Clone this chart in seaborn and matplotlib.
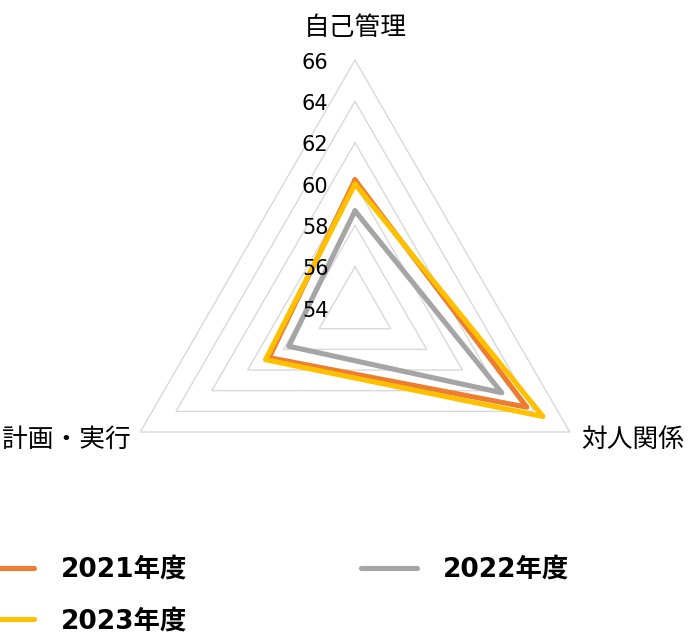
import numpy as np
import pandas as pd
import seaborn as sns
import matplotlib.pyplot as plt
from matplotlib.lines import Line2D

# Data
categories = ['自己管理', '対人関係', '計画・実行']
years = ['2021年度', '2022年度', '2023年度']
values_2021 = [60.2, 63.6, 58.8]
values_2022 = [58.7, 62.2, 57.7]
values_2023 = [60.0, 64.5, 59.0]
r_ticks = [54, 56, 58, 60, 62, 64, 66]
colors = ['#ED7D31', '#A5A5A5', '#FFC000']

sns.set_theme(style='white')
plt.rcParams['font.family'] = ['DejaVu Sans', 'Noto Sans CJK JP']

angles = np.linspace(0, 2 * np.pi, len(categories), endpoint=False)
theta = np.append(angles, 2 * np.pi)

# long-form table, each series closed back to its first point
rows = []
for year, vals in zip(years, [values_2021, values_2022, values_2023]):
    closed = list(vals) + [vals[0]]
    for t, v in zip(theta, closed):
        rows.append({'theta': t, 'score': v, 'year': year})
df = pd.DataFrame(rows)

fig = plt.figure(figsize=(6.89, 6.34), dpi=100)
ax = fig.add_axes([0.1553, 0.123, 0.7199, 0.7823], projection='polar')
ax.set_theta_offset(np.pi / 2)
ax.set_theta_direction(-1)

# triangular grid rings
for lvl in r_ticks[1:]:
    ax.plot(theta, [lvl] * len(theta), color='#D9D9D9', lw=1.0,
            clip_on=False, zorder=1)

sns.lineplot(data=df, x='theta', y='score', hue='year', palette=colors,
             sort=False, errorbar=None, lw=3.7, legend=False, ax=ax,
             solid_joinstyle='round', solid_capstyle='round',
             clip_on=False, zorder=3)

ax.set_ylim(r_ticks[0], r_ticks[-1])
ax.grid(False)
ax.spines['polar'].set_visible(False)
ax.set_xticks([])
ax.set_yticks([])
ax.set_xlabel('')
ax.set_ylabel('')

# value labels beside the top axis
for v in r_ticks:
    ax.annotate(str(v), xy=(0, v), xytext=(-19, -2), textcoords='offset points',
                ha='right', va='center', fontsize=15, color='black')

# category labels
offsets = [(0, 23, 'center'), (8, -6, 'left'), (-7, -6, 'right')]
for ang, cat, (dx, dy, ha) in zip(angles, categories, offsets):
    ax.annotate(cat, xy=(ang, r_ticks[-1]), xytext=(dx, dy),
                textcoords='offset points', ha=ha, va='center',
                fontsize=18.5, color='black',
                family=['Noto Sans CJK JP', 'DejaVu Sans'])

handles = [Line2D([], [], color=c, lw=3.7, solid_capstyle='round') for c in colors]
order = [0, 2, 1]
fig.legend([handles[i] for i in order], [years[i] for i in order],
           loc='upper left', bbox_to_anchor=(-0.0305, 0.1215), ncol=2,
           frameon=False, prop={'weight': 'bold', 'size': 19},
           labelcolor='black',
           handlelength=2.1, handletextpad=1.0, columnspacing=6.6,
           labelspacing=0.97, borderpad=0, borderaxespad=0)

fig.savefig('out.png', dpi=100)
